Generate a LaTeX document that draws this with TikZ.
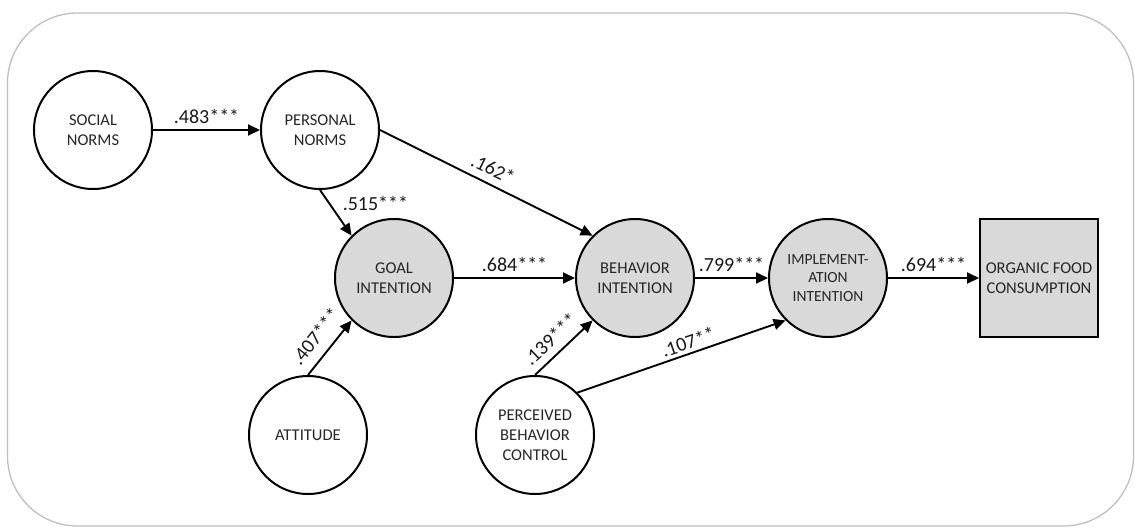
\documentclass[tikz,border=0pt]{standalone}
\usepackage{fontspec}
\setmainfont{Carlito}
\usetikzlibrary{arrows.meta}

\begin{document}
\begin{tikzpicture}[x=1pt,y=-1pt,
  latent/.style={circle,draw,line width=2pt,minimum size=118pt,inner sep=0pt,
    align=center,font=\fontsize{16.5}{20}\selectfont,text=black!85},
  endo/.style={latent,fill=black!15},
  outcome/.style={rectangle,draw,line width=2pt,minimum size=118pt,inner sep=0pt,
    fill=black!15,align=center,font=\fontsize{16.5}{20}\selectfont,text=black!85},
  path/.style={line width=1.9pt,-{Triangle[length=12pt,width=11pt]}},
  coef/.style={font=\fontsize{20}{24}\selectfont,text=black!90}]
  \useasboundingbox (0,0) rectangle (1135,528);
  \draw[black!25,line width=1.3pt,rounded corners=70pt] (7.5,13) rectangle (1133.5,526);

  \node[latent] (sn) at (93,130) {SOCIAL\\NORMS};
  \node[latent] (pn) at (320,130) {PERSONAL\\NORMS};
  \node[endo] (gi) at (394,278) {GOAL\\INTENTION};
  \node[endo] (bi) at (635,278) {BEHAVIOR\\INTENTION};
  \node[endo,font=\fontsize{15.5}{18.3}\selectfont] (ii) at (828,278) {IMPLEMENT-\\ATION\\INTENTION};
  \node[outcome] (ofc) at (1039,278) {ORGANIC FOOD\\CONSUMPTION};
  \node[latent] (att) at (308,435) {ATTITUDE};
  \node[latent] (pbc) at (535,435) {PERCEIVED\\BEHAVIOR\\CONTROL};

  \draw[path] (sn) -- node[coef,above=2pt] {.483***} (pn);
  \draw[path] (pn.east) -- node[coef,sloped,above=4pt] {.162*} (bi.135);
  \draw[path] (pn.south) -- node[coef,pos=0.3,right=9pt] {.515***} (gi.135);
  \draw[path] (gi) -- node[coef,above=2pt] {.684***} (bi);
  \draw[path] (bi) -- node[coef,above=2pt] {.799***} (ii);
  \draw[path] (ii) -- node[coef,above=2pt] {.694***} (ofc);
  \draw[path] (att.north) -- node[coef,sloped,above=7pt] {.407***} (gi.225);
  \draw[path] (pbc.north) -- node[coef,sloped,pos=0.45,above=4pt] {.139***} (bi.225);
  \draw[path] (pbc.45) -- node[coef,sloped,pos=0.55,above] {.107**} (ii.225);

\end{tikzpicture}
\end{document}
